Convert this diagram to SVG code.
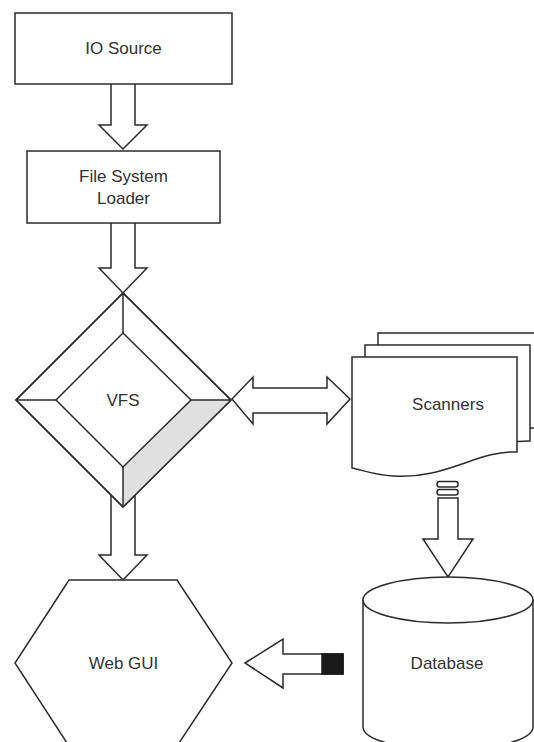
<svg xmlns="http://www.w3.org/2000/svg" width="534" height="742" viewBox="0 0 534 742">
<style>
.s{fill:#fff;stroke:#2b2b2b;stroke-width:1.5;stroke-linejoin:miter}
.t{font-family:"Liberation Sans",Arial,sans-serif;font-size:17px;fill:#333;text-anchor:middle;dominant-baseline:central}
</style>
<rect width="534" height="742" fill="#fff"/>
<g id="connectors">
  <path class="s" d="M111,84 V125 H99 L123,149 L147,125 H135 V84"/>
  <path class="s" d="M111,223 V268 H99 L123,293 L147,268 H135 V223"/>
  <path class="s" d="M111,490 V555 H99 L123,580 L147,555 H135 V490"/>
  <polygon class="s" points="232,399 253,377 253,388 327,388 327,377 350,399 327,424 327,413 253,413 253,424"/>
  <rect class="s" x="437" y="481.5" width="21" height="5.5" rx="2.5" stroke-width="2.5" stroke="#1a1a1a"/>
  <rect class="s" x="437" y="489.5" width="21" height="5.5" rx="2.5" stroke-width="2.5" stroke="#1a1a1a"/>
  <path class="s" d="M438,498 V539 H423 L448,577 L473,539 H458 V498 Z" stroke-width="2"/>
  <polygon class="s" points="245,663 283,639 283,654 343,654 343,674 283,674 283,688" stroke-width="2"/>
  <rect x="322" y="654" width="21" height="20" fill="#1a1a1a" stroke="#1a1a1a" stroke-width="1.5"/>
</g>
<g id="io-source">
  <rect class="s" x="15" y="13" width="217" height="71"/>
  <text class="t" x="123.5" y="48">IO Source</text>
</g>
<g id="file-system-loader">
  <rect class="s" x="27" y="151" width="193" height="72"/>
  <text class="t" x="123.5" y="176">File System</text>
  <text class="t" x="123.5" y="198">Loader</text>
</g>
<g id="vfs">
  <polygon class="s" points="123,293 231,400 123,507 16,400"/>
  <polygon points="191,400 231,400 123,507 123,467" fill="#e0e0e0" stroke="none"/>
  <polygon class="s" points="123,333 191,400 123,467 56,400"/>
  <path class="s" d="M123,293 V333 M231,400 H191 M123,507 V467 M16,400 H56"/>
  <polygon points="123,293 231,400 123,507 16,400" fill="none" stroke="#2b2b2b" stroke-width="1.5"/>
  <text class="t" x="123" y="400">VFS</text>
</g>
<g id="scanners">
  <path class="s" d="M378,333 H537 V428 C500,426 470,456 430,452 C410,450 395,446 378,444 Z"/>
  <path class="s" d="M365,345 H530 V441 C490,440 460,468 410,465 C390,464 375,459 365,457 Z"/>
  <path class="s" d="M352,357 H517 V452 C478,450 445,480 393,476 C375,475 362,470 352,468 Z"/>
  <text class="t" x="448" y="404">Scanners</text>
</g>
<g id="database">
  <path class="s" d="M363,600 V727 A85,23 0 0 0 533,727 V600 A85,23 0 0 0 363,600 Z"/>
  <path class="s" d="M363,600 A85,23 0 0 0 533,600" fill="none"/>
  <text class="t" x="447" y="663">Database</text>
</g>
<g id="web-gui">
  <polygon class="s" points="69,580 177,580 232,663 177,746 69,746 15,663"/>
  <text class="t" x="123.5" y="663">Web GUI</text>
</g>
</svg>
